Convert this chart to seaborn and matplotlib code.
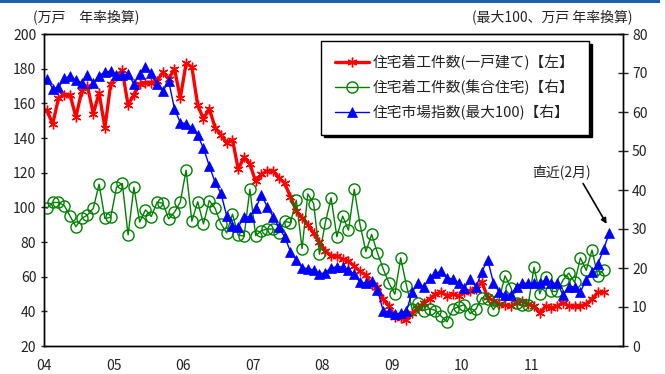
import matplotlib
matplotlib.use("Agg")
import matplotlib.pyplot as plt
import seaborn as sns
import pandas as pd
from matplotlib.patches import Rectangle

# 住宅着工件数(一戸建て) 万戸・年率換算, 2004/01 - 2012/01 (left axis)
kodate = [156, 148, 163, 165, 165, 152, 167, 170, 154, 166, 146, 171,
          176, 179, 159, 165, 171, 172, 172, 173, 178, 174, 180, 163,
          183, 181, 159, 151, 157, 146, 142, 137, 139, 122, 129, 125,
          115, 119, 121, 121, 117, 114, 106, 98, 94, 90, 85, 80,
          75, 72, 72, 70, 69, 66, 63, 61, 55, 54, 47, 43,
          37, 36, 35, 39, 42, 45, 47, 50, 51, 49, 50, 49,
          51, 52, 53, 57, 48, 46, 44, 43.5, 43, 45, 46, 44,
          43, 39, 43, 42, 43, 45, 43, 43, 43, 44, 47, 51, 51]

# 住宅着工件数(集合住宅) 万戸・年率換算, 2004/01 - 2012/01 (right axis)
shugo = [35.3, 36.8, 36.8, 36, 33.3, 30.6, 32.7, 33.6, 35.3, 41.5, 32.7, 33,
         40.7, 41.7, 28.5, 40.7, 31.8, 34.9, 33.2, 36.9, 36.6, 32.6, 34.3, 36.9,
         45.1, 32, 37, 31.3, 37.3, 35.3, 31.4, 29, 33.8, 28.4, 28.2, 40.2,
         28.3, 29.6, 30, 30, 29, 32, 31.6, 37.4, 25, 39, 36.5, 23.5,
         31.5, 38, 28, 33.3, 29.7, 40.2, 31.1, 24.2, 28.6, 23.9, 19.7, 16.1,
         13.3, 22.6, 15.5, 9.4, 11.1, 9.1, 9.6, 9.1, 7.6, 6.2, 9.4, 10.1,
         10.6, 8.3, 9.5, 12.4, 12.1, 9.3, 12.1, 18, 15, 10.9, 10.4, 10.6,
         20.2, 13.4, 17.8, 14, 14, 16.9, 18.7, 16.3, 22.6, 19.4, 24.6, 17.9, 19.6]

# 住宅市場指数(最大100), 2004/01 - 2012/02 (right axis)
shijo = [68.5, 66, 66.3, 68.6, 69.2, 68.2, 67.5, 69.4, 67.4, 69.3, 70.2, 70.5,
         69.5, 69.4, 69.8, 67.2, 69.7, 71.6, 70, 67.2, 65.3, 67.9, 60.8, 57.3,
         57, 55.9, 54, 50.7, 46.2, 42, 39.2, 33.4, 30.8, 30.6, 33, 33.2,
         35.3, 38.7, 35.7, 33.2, 30.4, 28, 24.2, 22.1, 20.1, 19.8, 19.5, 18.5,
         18.8, 20, 20.3, 20.3, 19.5, 18.4, 16.3, 16.1, 16.6, 14.4, 9, 8.8,
         8.1, 8.5, 9, 13.9, 16.1, 15.2, 17.4, 18.6, 19.2, 17.4, 17.2, 16.2,
         15, 17.1, 15.1, 19, 22.1, 16.2, 13.8, 13.1, 13.1, 15.2, 16.1, 16.1,
         16.1, 16.1, 17, 16.1, 16.1, 13.1, 15.2, 15.2, 13.9, 17, 19, 21, 24.8, 29.1]

year_ticks = list(range(2004, 2013))
year_labels = ["04", "05", "06", "07", "08", "09", "10", "11", ""]
labels = ["住宅着工件数(一戸建て)【左】", "住宅着工件数(集合住宅)【右】", "住宅市場指数(最大100)【右】"]

sns.set_style("white")
plt.rcParams["font.family"] = ["Noto Sans CJK JP", "DejaVu Sans"]
plt.rcParams["font.size"] = 10
txt_color = "#222222"

dates = pd.date_range("2004-01-01", periods=len(shijo), freq="MS")
xpos = (dates.year + (dates.month - 0.5) / 12).to_numpy()

fig, ax = plt.subplots(figsize=(6.65, 3.74), dpi=100)
fig.subplots_adjust(left=44 / 665, right=623 / 665, bottom=28 / 374, top=340 / 374)
ax2 = ax.twinx()

sns.lineplot(x=xpos[:len(kodate)], y=kodate, ax=ax, color="#ff0000", lw=2.4,
             marker=(6, 2, 0), ms=7, mec="#ff0000", mew=1.0, legend=False)
sns.lineplot(x=xpos[:len(shugo)], y=shugo, ax=ax2, color="#008000", lw=1.0,
             marker="o", ms=8, mfc="none", mec="#008000", mew=1.0, legend=False)
sns.lineplot(x=xpos, y=shijo, ax=ax2, color="#0000ff", lw=1.0,
             marker="^", ms=7, mfc="#0000ff", mec="#0000ff", mew=0.5, legend=False)

ax.set_xlim(2004, 2012.32)
ax.set_ylim(20, 200)
ax.set_yticks(range(20, 201, 20))
ax2.set_ylim(0, 80)
ax2.set_yticks(range(0, 81, 10))
ax.set_xticks(year_ticks)
ax.set_xticklabels(year_labels)
ax.set_xlabel("")
ax.set_ylabel("")
ax2.set_ylabel("")

ax.tick_params(axis="x", direction="in", length=4, width=1, pad=9, colors=txt_color, labelsize=10)
ax.tick_params(axis="y", direction="inout", length=5, width=1, pad=3, colors=txt_color, labelsize=10)
ax2.tick_params(axis="y", direction="inout", length=7, width=1, pad=3, colors=txt_color, labelsize=10)
for a in (ax, ax2):
    for sp in a.spines.values():
        sp.set_color("black")
        sp.set_linewidth(1.0)

handles = ax.get_lines()[:1] + ax2.get_lines()[:2]
leg = ax2.legend(handles, labels, loc="upper right", bbox_to_anchor=(0.941, 0.978),
                 borderaxespad=0, frameon=True, fancybox=False, framealpha=1,
                 edgecolor="black", fontsize=10.6, handlelength=2.3, handletextpad=0.3,
                 borderpad=0.95, labelspacing=0.65,
                 shadow={"facecolor": "black", "edgecolor": "black", "alpha": 1})
leg.get_frame().set_linewidth(1.0)
for t in leg.get_texts():
    t.set_color(txt_color)

ax2.annotate("直近(2月)", xy=(xpos[-1] - 0.04, shijo[-1] + 2.2),
             xytext=(2011.44, 44.7), ha="center", va="center", color=txt_color, fontsize=10,
             arrowprops=dict(arrowstyle="-|>", color="black", lw=1.2, relpos=(0.82, 0),
                             shrinkA=1, shrinkB=0, mutation_scale=8))

fig.text(33 / 665, 1 - 17 / 374, "(万戸　年率換算)", ha="left", va="center", color=txt_color, fontsize=10)
fig.text(632 / 665, 1 - 17 / 374, "(最大100、万戸 年率換算)", ha="right", va="center", color=txt_color, fontsize=10)
fig.add_artist(Rectangle((0, 1 - 2.5 / 374), 660 / 665, 2.5 / 374, transform=fig.transFigure,
                         facecolor="#1f5ea8", edgecolor="none"))

fig.savefig("out.png", dpi=100)
